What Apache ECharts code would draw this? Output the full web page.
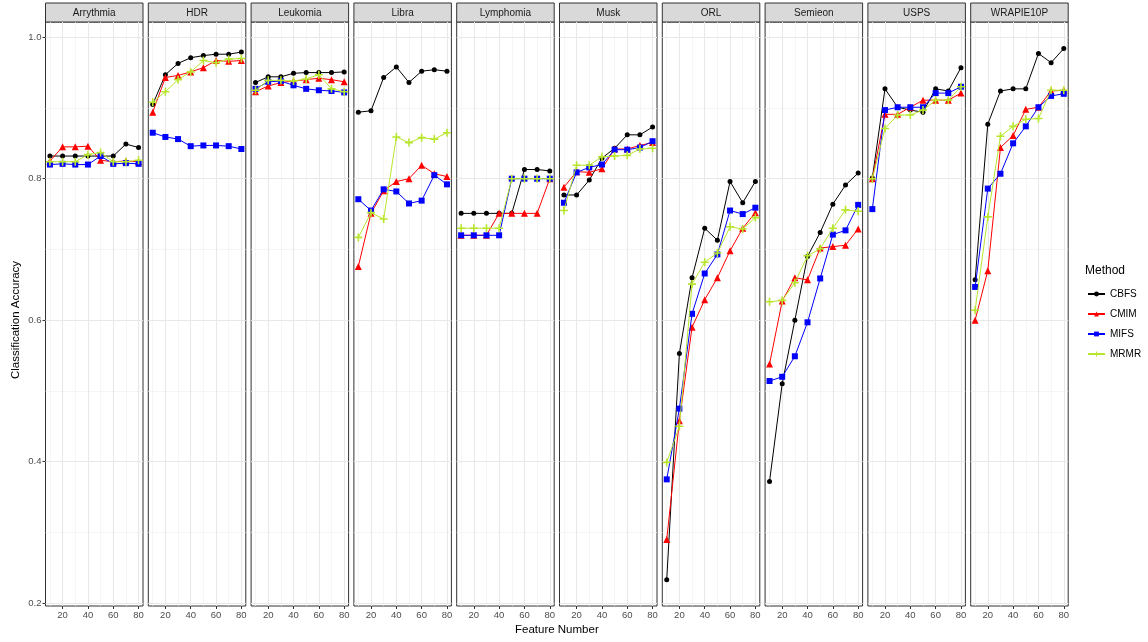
<!DOCTYPE html>
<html>
<head>
<meta charset="utf-8">
<script src="https://cdn.jsdelivr.net/npm/echarts@6/dist/echarts.min.js"></script>
<style>
  html, body { margin: 0; padding: 0; background: #ffffff; }
  #chart { width: 1148px; height: 642px; }
</style>
</head>
<body>
<div id="chart"></div>
<script>
// Feature counts on the x axis and the four selection methods
const featureNumbers = [10, 20, 30, 40, 50, 60, 70, 80];
const methods = ['CBFS', 'CMIM', 'MIFS', 'MRMR'];
const datasets = ['Arrythmia', 'HDR', 'Leukomia', 'Libra', 'Lymphomia', 'Musk', 'ORL', 'Semieon', 'USPS', 'WRAPIE10P'];

// Tick labels and grid lines
const xTicks = [20, 40, 60, 80];
const xMinor = [10, 30, 50, 70];
const yTicks = [0.2, 0.4, 0.6, 0.8, 1.0];
const yMinor = [0.3, 0.5, 0.7, 0.9];

// Classification accuracy per dataset; rows follow `methods` order (CBFS, CMIM, MIFS, MRMR)
const arrythmia = [
  [0.832, 0.832, 0.832, 0.832, 0.832, 0.832, 0.849, 0.844],
  [0.825, 0.845, 0.845, 0.846, 0.826, 0.824, 0.825, 0.824],
  [0.820, 0.821, 0.820, 0.820, 0.832, 0.821, 0.822, 0.821],
  [0.824, 0.824, 0.824, 0.834, 0.837, 0.824, 0.824, 0.826]
];
const hdr = [
  [0.905, 0.947, 0.963, 0.971, 0.974, 0.976, 0.976, 0.979],
  [0.894, 0.943, 0.946, 0.951, 0.957, 0.967, 0.966, 0.967],
  [0.865, 0.859, 0.856, 0.846, 0.847, 0.847, 0.846, 0.842],
  [0.908, 0.923, 0.940, 0.951, 0.967, 0.964, 0.969, 0.970]
];
const leukomia = [
  [0.936, 0.944, 0.944, 0.949, 0.950, 0.950, 0.950, 0.951],
  [0.923, 0.931, 0.936, 0.938, 0.940, 0.942, 0.940, 0.937],
  [0.927, 0.937, 0.938, 0.932, 0.927, 0.925, 0.924, 0.922],
  [0.925, 0.939, 0.939, 0.938, 0.941, 0.947, 0.927, 0.923]
];
const libra = [
  [0.894, 0.896, 0.943, 0.958, 0.936, 0.952, 0.954, 0.952],
  [0.676, 0.751, 0.783, 0.796, 0.800, 0.819, 0.807, 0.803],
  [0.771, 0.755, 0.785, 0.782, 0.765, 0.769, 0.805, 0.792],
  [0.717, 0.752, 0.743, 0.859, 0.851, 0.858, 0.856, 0.865]
];
const lymphomia = [
  [0.751, 0.751, 0.751, 0.751, 0.751, 0.813, 0.813, 0.811],
  [0.720, 0.720, 0.720, 0.751, 0.751, 0.751, 0.751, 0.800],
  [0.720, 0.720, 0.720, 0.720, 0.800, 0.800, 0.800, 0.800],
  [0.730, 0.730, 0.730, 0.730, 0.800, 0.800, 0.800, 0.800]
];
const musk = [
  [0.777, 0.777, 0.798, 0.829, 0.843, 0.862, 0.862, 0.873],
  [0.788, 0.810, 0.809, 0.814, 0.842, 0.842, 0.847, 0.851],
  [0.766, 0.809, 0.816, 0.820, 0.841, 0.841, 0.844, 0.853],
  [0.755, 0.819, 0.819, 0.831, 0.832, 0.833, 0.842, 0.843]
];
const orl = [
  [0.233, 0.553, 0.660, 0.730, 0.713, 0.796, 0.766, 0.796],
  [0.290, 0.458, 0.590, 0.629, 0.660, 0.698, 0.730, 0.752],
  [0.375, 0.475, 0.609, 0.666, 0.693, 0.755, 0.750, 0.759],
  [0.399, 0.450, 0.651, 0.682, 0.695, 0.732, 0.729, 0.745]
];
const semieon = [
  [0.372, 0.510, 0.600, 0.690, 0.724, 0.764, 0.791, 0.808],
  [0.538, 0.627, 0.660, 0.657, 0.702, 0.704, 0.706, 0.729],
  [0.514, 0.520, 0.549, 0.597, 0.659, 0.721, 0.727, 0.763],
  [0.626, 0.628, 0.653, 0.691, 0.701, 0.730, 0.756, 0.754]
];
const usps = [
  [0.801, 0.927, 0.901, 0.897, 0.894, 0.927, 0.924, 0.957],
  [0.800, 0.891, 0.891, 0.901, 0.911, 0.911, 0.911, 0.921],
  [0.757, 0.897, 0.901, 0.901, 0.901, 0.921, 0.921, 0.930],
  [0.800, 0.871, 0.890, 0.890, 0.897, 0.911, 0.911, 0.930]
];
const wrapie10p = [
  [0.657, 0.877, 0.924, 0.927, 0.927, 0.977, 0.964, 0.984],
  [0.600, 0.670, 0.844, 0.861, 0.898, 0.901, 0.924, 0.925],
  [0.647, 0.786, 0.807, 0.850, 0.874, 0.901, 0.917, 0.920],
  [0.614, 0.746, 0.860, 0.874, 0.884, 0.885, 0.925, 0.925]
];

const panelValues = [arrythmia, hdr, leukomia, libra, lymphomia, musk, orl, semieon, usps, wrapie10p];

// Styling per method
const methodColors = ['#000000', '#ff0000', '#0000ff', '#b8e62e'];
const plusPath = 'path://M4,0H6V4H10V6H6V10H4V6H0V4H4Z';
const methodSymbols = ['circle', 'triangle', 'rect', plusPath];
const methodSymbolSizes = [5, 7, 6, 8];

// Facet layout
const FONT = '"Liberation Sans", Arial, Helvetica, sans-serif';
const PANEL_LEFT = 45.5;
const PANEL_W = 97.5;
const PANEL_STEP = 102.8;
const PANEL_TOP = 22;
const PANEL_H = 584;
const STRIP_TOP = 3;
const X_MIN = 6.5, X_MAX = 83.5;
const Y_MIN = 0.196, Y_MAX = 1.0215;

const grids = [], xAxes = [], yAxes = [], series = [], graphics = [];

datasets.forEach((name, i) => {
  const left = PANEL_LEFT + i * PANEL_STEP;
  grids.push({
    left: left, top: PANEL_TOP, width: PANEL_W, height: PANEL_H,
    show: true, backgroundColor: '#ffffff', borderColor: '#333333', borderWidth: 1
  });
  xAxes.push({
    gridIndex: i, type: 'value', min: X_MIN, max: X_MAX,
    axisLine: { show: false },
    axisTick: { show: true, customValues: xTicks, length: 3, lineStyle: { color: '#333333', width: 1 } },
    axisLabel: { customValues: xTicks, color: '#4d4d4d', fontSize: 9.5, fontFamily: FONT, margin: 4 },
    splitLine: { show: false }
  });
  yAxes.push({
    gridIndex: i, type: 'value', min: Y_MIN, max: Y_MAX, show: i === 0,
    axisLine: { show: false },
    axisTick: { show: true, customValues: yTicks, length: 3, lineStyle: { color: '#333333', width: 1 } },
    axisLabel: {
      customValues: yTicks, color: '#4d4d4d', fontSize: 9.5, fontFamily: FONT, margin: 4,
      formatter: v => v.toFixed(1)
    },
    splitLine: { show: false }
  });

  // Panel grid lines, drawn beneath the data
  const major = { color: '#e8e8e8', width: 1.1, type: 'solid' };
  const minor = { color: '#f1f1f1', width: 0.7, type: 'solid' };
  series.push({
    type: 'line', xAxisIndex: i, yAxisIndex: i, data: [], silent: true,
    markLine: {
      silent: true, symbol: ['none', 'none'], z: 1, animation: false,
      label: { show: false }, emphasis: { disabled: true },
      data: [].concat(
        xMinor.map(v => ({ xAxis: v, lineStyle: minor })),
        yMinor.map(v => ({ yAxis: v, lineStyle: minor })),
        xTicks.map(v => ({ xAxis: v, lineStyle: major })),
        yTicks.map(v => ({ yAxis: v, lineStyle: major }))
      )
    }
  });

  methods.forEach((m, k) => {
    series.push({
      type: 'line', name: m, xAxisIndex: i, yAxisIndex: i, z: 3 + k,
      data: featureNumbers.map((x, j) => [x, panelValues[i][k][j]]),
      symbol: methodSymbols[k], symbolSize: methodSymbolSizes[k], showAllSymbol: true,
      itemStyle: { color: methodColors[k] },
      lineStyle: { color: methodColors[k], width: 1 },
      emphasis: { disabled: true }, animation: false
    });
  });

  // Facet strip with the dataset name
  graphics.push({
    type: 'rect', silent: true,
    shape: { x: left, y: STRIP_TOP, width: PANEL_W, height: PANEL_TOP - STRIP_TOP },
    style: { fill: '#d9d9d9', stroke: '#333333', lineWidth: 1 }
  });
  graphics.push({
    type: 'text', silent: true, x: left + PANEL_W / 2, y: (STRIP_TOP + PANEL_TOP) / 2 + 0.5,
    style: { text: name, align: 'center', verticalAlign: 'middle', fill: '#1a1a1a', font: '10px ' + FONT }
  });
});

// Axis titles and legend heading
graphics.push({
  type: 'text', silent: true, x: PANEL_LEFT + (9 * PANEL_STEP + PANEL_W) / 2, y: 630,
  style: { text: 'Feature Number', align: 'center', verticalAlign: 'middle', fill: '#000000', font: '11.5px ' + FONT }
});
graphics.push({
  type: 'text', silent: true, x: 16, y: 320, rotation: Math.PI / 2,
  style: { text: 'Classification Accuracy', align: 'center', verticalAlign: 'middle', fill: '#000000', font: '11.5px ' + FONT }
});
graphics.push({
  type: 'text', silent: true, x: 1085, y: 271,
  style: { text: 'Method', align: 'left', verticalAlign: 'middle', fill: '#000000', font: '12px ' + FONT }
});

const chart = echarts.init(document.getElementById('chart'), null, { renderer: 'canvas' });
chart.setOption({
  backgroundColor: '#ffffff',
  animation: false,
  textStyle: { fontFamily: FONT },
  grid: grids,
  xAxis: xAxes,
  yAxis: yAxes,
  series: series,
  legend: {
    data: methods, orient: 'vertical', left: 1082, top: 284,
    itemWidth: 17, itemHeight: 6, itemGap: 10,
    textStyle: { fontSize: 10, color: '#000000', fontFamily: FONT },
    selectedMode: false
  },
  graphic: graphics
});
</script>
</body>
</html>
